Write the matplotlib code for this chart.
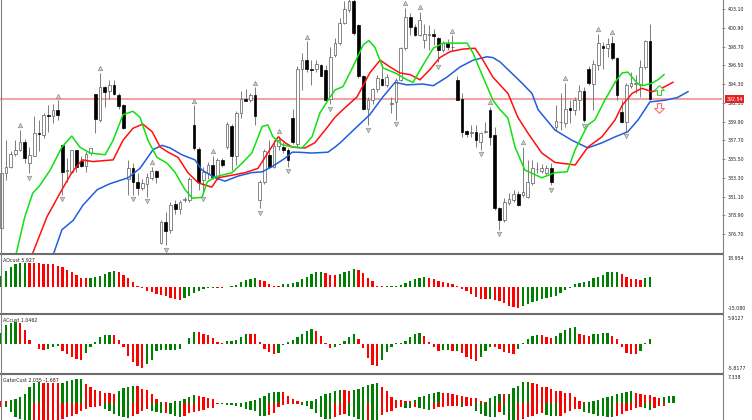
import numpy as np
import matplotlib.pyplot as plt
from matplotlib.lines import Line2D
from matplotlib.path import Path
from matplotlib.transforms import blended_transform_factory

plt.rcParams['font.family'] = ['DejaVu Sans']

# ---------------- price bars, first one (-1) sits half out of view ----------------
first_bar = -1
opens = [377.4, 383.9, 384.6, 386.1, 386.6, 387.5, 385.0, 385.9, 388.6, 388.3,
         390.7, 390.5, 391.3, 387.1, 384.1, 384.0, 386.6, 385.3, 384.7, 386.2,
         393.1, 390.1, 393.9, 393.5, 394.2, 393.0, 391.8, 383.2, 384.4, 382.8,
         382.1, 382.6, 383.3, 384.1, 375.6, 378.1, 377.2, 380.2, 379.6, 380.7,
         380.7, 389.5, 386.7, 383.0, 383.8, 384.8, 383.2, 385.4, 386.9, 389.4,
         385.8, 390.9, 392.6, 392.4, 393.0, 380.7, 382.8, 386.0, 384.6, 387.0,
         386.9, 386.6, 390.3, 387.3, 396.1, 397.1, 396.1, 396.1, 396.5, 395.9,
         392.6, 397.7, 399.1, 401.5, 403.0, 404.0, 401.2, 395.2, 391.4, 392.4,
         393.7, 394.9, 394.2, 392.0, 392.2, 394.8, 398.5, 402.2, 401.0, 400.1,
         399.5, 400.1, 400.2, 399.7, 398.3, 399.1, 398.6, 394.8, 392.6, 388.8,
         388.6, 388.7, 387.5, 388.7, 391.3, 388.3, 379.7, 378.3, 380.3, 380.7,
         381.4, 381.3, 381.0, 382.7, 384.3, 384.1, 383.8, 384.4, 389.2, 389.8,
         389.7, 391.5, 391.2, 392.4, 393.5, 396.1, 394.3, 396.5, 398.8, 398.5,
         399.1, 397.4, 391.0, 389.9, 394.1, 394.3, 394.2, 396.3, 399.3]
highs = [384.2, 387.7, 386.4, 387.7, 388.9, 387.9, 386.9, 390.5, 390.1, 390.9,
         391.8, 391.9, 392.4, 387.2, 385.6, 386.6, 386.6, 385.8, 386.4, 386.8,
         393.1, 395.6, 394.1, 394.8, 394.8, 393.2, 391.9, 385.4, 385.0, 383.8,
         383.2, 383.9, 384.6, 384.2, 378.3, 379.3, 380.5, 380.7, 380.7, 381.1,
         383.4, 391.8, 386.9, 384.6, 385.2, 385.9, 385.6, 385.6, 389.9, 389.6,
         391.1, 393.5, 393.7, 393.2, 393.9, 383.0, 386.7, 387.7, 387.7, 388.2,
         387.5, 386.8, 391.4, 396.4, 397.9, 399.3, 397.1, 397.1, 396.7, 396.5,
         398.7, 399.7, 402.0, 404.0, 404.5, 404.6, 401.3, 395.4, 392.8, 393.8,
         395.4, 396.7, 395.5, 392.8, 395.0, 398.7, 403.2, 402.6, 401.4, 402.8,
         401.4, 401.2, 400.8, 399.8, 399.4, 399.6, 400.0, 395.2, 393.2, 388.9,
         389.5, 389.5, 388.7, 389.8, 391.6, 389.3, 379.9, 380.9, 381.5, 381.9,
         381.7, 386.9, 385.4, 385.4, 385.2, 384.9, 384.8, 385.0, 391.8, 393.2,
         394.4, 392.4, 392.8, 394.2, 394.0, 396.4, 397.1, 400.2, 399.2, 399.7,
         399.9, 397.5, 392.4, 394.4, 395.7, 395.4, 397.1, 399.5, 401.3]
lows = [377.2, 383.0, 384.4, 385.8, 386.4, 385.0, 383.8, 385.8, 386.4, 388.0,
        388.7, 389.7, 390.1, 381.3, 382.8, 383.8, 384.0, 384.6, 384.0, 386.0,
        388.5, 389.9, 391.6, 392.6, 393.0, 391.4, 389.0, 381.3, 381.3, 381.3,
        381.9, 381.1, 383.0, 382.7, 375.5, 375.4, 376.8, 379.1, 379.1, 380.4,
        380.5, 386.6, 381.9, 381.4, 383.2, 383.2, 383.0, 384.6, 386.7, 384.2,
        384.8, 390.3, 392.4, 392.2, 389.5, 379.7, 382.6, 384.4, 384.4, 386.6,
        386.2, 384.6, 387.3, 386.9, 393.6, 395.7, 394.2, 395.7, 395.2, 392.1,
        391.9, 397.5, 398.9, 401.3, 402.8, 400.0, 395.0, 391.3, 389.5, 392.0,
        393.4, 394.1, 393.9, 390.9, 390.1, 394.6, 398.3, 400.1, 399.9, 399.9,
        398.5, 398.3, 398.9, 396.9, 398.1, 398.3, 398.2, 392.4, 388.1, 388.1,
        388.1, 386.9, 386.6, 388.5, 387.2, 379.5, 377.2, 378.1, 380.1, 380.5,
        380.0, 381.1, 380.9, 382.5, 383.8, 383.8, 383.6, 382.4, 388.9, 388.9,
        389.2, 389.7, 390.7, 391.3, 389.9, 394.2, 391.3, 395.9, 396.1, 397.5,
        397.1, 392.4, 389.7, 388.7, 393.8, 393.2, 392.8, 396.1, 392.4]
closes = [383.9, 384.6, 386.1, 386.6, 387.5, 385.6, 386.0, 388.5, 388.4, 390.7,
          390.6, 391.3, 390.7, 384.0, 384.15, 386.6, 384.6, 384.7, 386.1, 386.8,
          390.2, 393.9, 393.4, 394.2, 393.1, 391.7, 389.1, 384.4, 382.8, 382.1,
          382.7, 383.4, 384.1, 383.4, 378.1, 377.0, 380.1, 379.6, 380.5, 380.8,
          383.2, 386.8, 382.8, 384.0, 384.8, 383.4, 385.4, 384.8, 389.6, 385.8,
          390.9, 392.6, 392.3, 393.0, 390.5, 382.8, 386.4, 384.6, 387.0, 387.7,
          386.6, 385.4, 387.5, 396.1, 397.1, 396.1, 396.0, 396.6, 395.2, 392.4,
          397.5, 399.1, 401.5, 403.1, 404.0, 400.3, 395.2, 391.4, 392.4, 393.7,
          395.0, 394.2, 395.1, 392.05, 394.8, 398.5, 402.2, 401.0, 400.1, 401.8,
          400.2, 400.15, 399.9, 398.3, 399.1, 398.7, 398.7, 392.4, 388.7, 388.4,
          388.65, 387.7, 388.6, 388.75, 388.1, 379.7, 378.3, 380.5, 380.8, 381.4,
          380.1, 381.6, 382.8, 384.4, 384.35, 384.4, 384.4, 382.8, 390.0, 389.9,
          391.4, 391.2, 392.4, 393.5, 390.1, 394.4, 396.7, 399.1, 398.5, 399.0,
          397.3, 393.0, 389.9, 394.2, 394.4, 394.35, 396.3, 399.3, 392.54]

last_price = 392.54
price_ticks = [403.10, 400.90, 398.70, 396.50, 394.30, 392.10, 389.90,
               387.70, 385.50, 383.30, 381.10, 378.90, 376.70]

# fractal bars
up_fractals = [3, 11, 20, 31, 40, 44, 53, 58, 64, 85, 88, 95, 103, 110, 119, 126, 129]
down_fractals = [5, 12, 27, 30, 34, 42, 54, 60, 69, 77, 83, 92, 101, 105, 116, 123, 132]

# alligator lines (bar position, price)
jaw_x = [10.0, 11.9, 14.3, 16.4, 19.4, 22.1, 26.0, 28.5, 31.3, 33.2, 34.9, 37.4, 40.2,
         41.7, 44.5, 46.6, 49.4, 52.3, 54.5, 56.6, 59.4, 60.9, 62.1, 65.1, 68.5, 70.0,
         71.1, 74.7, 77.4, 80.2, 82.8, 85.3, 88.7, 90.9, 93.8, 96.6, 99.4, 102.3, 103.6,
         105.1, 106.8, 109.8, 111.9, 113.2, 116.8, 120.4, 123.8, 126.8, 129.6, 132.3,
         134.5, 137.0, 140.2, 142.8, 145.1]
jaw = [374.2, 377.2, 378.3, 380.1, 381.9, 382.6, 383.3, 384.4, 386.6, 387.1, 386.8,
       386.0, 385.4, 384.2, 383.3, 382.9, 383.5, 383.9, 384.0, 384.6, 385.6, 386.3,
       386.3, 386.2, 386.3, 386.9, 387.4, 389.3, 390.7, 392.8, 394.5, 394.2, 394.3,
       394.1, 395.1, 396.3, 397.1, 397.5, 397.4, 396.9, 396.0, 394.4, 393.2, 391.3,
       388.9, 387.7, 386.8, 387.4, 388.1, 388.7, 390.1, 392.2, 392.4, 392.7, 393.4]
teeth_x = [5.5, 8.7, 11.9, 14.0, 16.2, 18.5, 22.8, 24.9, 27.0, 29.1, 31.1, 32.8, 34.5,
           36.6, 38.7, 40.9, 43.8, 45.1, 48.1, 50.9, 53.6, 55.7, 57.9, 59.4, 60.9, 63.6,
           65.7, 67.9, 70.0, 71.7, 74.7, 77.4, 79.6, 81.7, 83.8, 86.0, 88.1, 90.2, 92.3,
           94.5, 97.2, 99.8, 101.5, 103.6, 105.1, 106.8, 108.9, 111.1, 114.0, 116.8,
           121.1, 123.8, 126.8, 129.6, 131.1, 133.2, 135.3, 137.4, 138.7, 140.2, 141.9]
teeth = [374.2, 378.7, 381.9, 383.9, 385.4, 385.2, 385.4, 387.7, 389.1, 389.6, 388.7,
         386.9, 386.3, 385.7, 383.9, 382.7, 382.2, 383.3, 383.6, 383.9, 384.4, 386.2,
         388.1, 387.4, 386.9, 386.8, 387.4, 388.9, 390.4, 391.3, 392.8, 395.6, 397.1,
         396.3, 395.6, 395.4, 394.8, 396.0, 397.4, 398.1, 398.4, 398.5, 397.1, 395.1,
         394.2, 393.2, 390.4, 388.5, 386.2, 385.1, 384.8, 386.9, 388.1, 390.1, 391.8,
         393.2, 393.8, 393.4, 393.6, 394.0, 394.5]
lips_x = [2.0, 4.0, 5.7, 7.2, 9.4, 11.9, 14.0, 15.7, 17.9, 21.1, 22.8, 24.9, 27.0, 28.5,
          30.2, 32.1, 34.3, 36.0, 38.1, 39.6, 41.7, 42.8, 44.5, 48.1, 50.2, 52.3, 54.5,
          55.7, 56.8, 58.7, 60.9, 63.0, 65.1, 66.8, 68.5, 70.0, 71.7, 73.8, 76.0, 77.2,
          78.5, 80.2, 82.8, 85.3, 86.6, 88.7, 90.9, 93.0, 98.1, 99.4, 101.5, 103.6, 105.1,
          106.8, 108.3, 110.4, 114.0, 116.8, 119.4, 121.1, 123.8, 125.3, 127.4, 129.6,
          131.1, 132.3, 134.3, 135.5, 137.4, 138.7, 140.0]
lips = [374.0, 378.7, 381.5, 382.4, 384.2, 386.9, 388.2, 386.9, 386.2, 386.0, 387.7,
        390.7, 391.1, 390.4, 387.7, 385.7, 385.0, 383.9, 381.9, 380.9, 381.0, 382.8,
        383.4, 383.9, 385.0, 386.2, 389.3, 389.5, 388.1, 387.2, 386.9, 386.8, 388.1,
        390.9, 392.4, 393.6, 394.0, 396.3, 398.9, 399.4, 398.6, 396.2, 395.6, 394.8,
        394.5, 396.5, 398.5, 399.1, 399.1, 397.9, 395.1, 392.4, 391.3, 390.3, 386.9,
        384.2, 383.3, 383.9, 384.0, 386.6, 389.5, 390.1, 392.4, 394.5, 395.6, 395.7,
        394.4, 394.1, 394.4, 394.8, 395.4]

# signal arrows at the right
signal_bar = 139
signal_up_price = 393.6
signal_down_price = 391.5

# ---------------- oscillators, bar -1 onward ----------------
ao = [6.6, 9.2, 11.5, 13.5, 14.0, 14.4, 14.3, 14.2, 14.0, 13.7,
      13.6, 13.5, 12.6, 11.5, 10.0, 8.6, 6.8, 5.4, 5.0, 5.3,
      5.8, 6.6, 7.6, 8.6, 9.5, 8.7, 7.3, 5.2, 2.6, 0.6,
      -1.0, -2.4, -3.4, -4.2, -4.8, -5.8, -6.6, -7.2, -7.8, -6.8,
      -5.8, -3.6, -2.4, -1.4, -0.8, -0.5, -0.6, -0.7, -0.2, 0.6,
      1.0, 2.6, 4.0, 4.8, 5.2, 4.2, 3.2, 1.6, 0.6, 0.4,
      1.6, 1.7, 2.2, 3.0, 4.6, 6.0, 7.6, 8.6, 8.7, 8.0,
      7.2, 7.1, 7.6, 8.6, 9.6, 10.5, 10.0, 8.2, 5.2, 3.2,
      0.6, 0.4, 0.45, 0.5, 0.55, 1.0, 2.0, 3.2, 4.6, 5.2,
      5.6, 5.2, 4.6, 3.6, 3.0, 2.0, 1.6, 0.4, -1.2, -2.4,
      -4.4, -6.4, -7.4, -7.5, -7.3, -8.0, -8.8, -10.0, -11.3, -12.3,
      -12.4, -11.3, -10.3, -9.4, -8.4, -7.4, -6.8, -6.4, -5.4, -4.0,
      -2.0, -0.6, 1.6, 2.0, 2.6, 3.6, 5.2, 6.0, 7.2, 8.6,
      8.7, 8.8, 7.6, 5.6, 4.8, 4.4, 4.0, 5.2, 5.927]
ac = [2.3, 3.9, 4.2, 4.4, 4.2, 2.8, 0.75, -0.1, -1.1, -1.3,
      -1.0, -0.6, -0.4, -1.4, -2.1, -2.8, -3.2, -3.3, -2.0, -0.75,
      0.3, 1.3, 1.8, 1.85, 1.7, 0.75, -0.6, -2.5, -3.8, -4.5,
      -4.9, -4.2, -3.4, -1.4, -1.35, -1.3, -1.25, -1.2, -1.1, -0.1,
      1.2, 2.5, 2.45, 2.0, 1.7, 1.2, 0.3, 0.15, 0.6, 0.65,
      0.8, 1.4, 2.0, 1.95, 1.9, 0.3, -1.1, -1.8, -2.1, -2.0,
      -0.2, 0.35, 0.75, 1.3, 2.0, 2.7, 2.95, 2.7, 1.65, 0.2,
      -0.9, -0.75, -0.2, 0.5, 1.4, 2.0, 1.0, -0.9, -2.9, -4.3,
      -4.5, -3.4, -1.8, -0.6, 0.05, 0.2, 0.6, 1.4, 2.1, 2.3,
      1.65, 0.3, -0.75, -1.4, -1.35, -1.3, -1.55, -1.45, -2.0, -2.8,
      -3.2, -3.5, -2.8, -1.4, -0.6, -0.65, -1.1, -1.8, -2.0, -2.05,
      -1.1, 0.2, 1.0, 1.65, 1.8, 1.75, 1.3, 1.15, 1.65, 2.3,
      2.8, 3.2, 3.5, 2.0, 1.85, 1.65, 2.0, 2.1, 2.15, 2.2,
      1.65, 0.9, -0.75, -2.0, -2.1, -2.2, -1.4, 0.05, 1.0462]
gator_up = [0.7, 0.6, 0.9, 1.2, 1.6, 2.4, 4.1, 5.2, 5.4, 5.35,
            5.3, 5.25, 5.2, 5.3, 5.8, 6.0, 6.2, 6.25, 5.0, 4.1,
            3.4, 3.1, 2.8, 2.75, 2.4, 3.3, 4.0, 4.3, 4.6, 4.4,
            3.7, 3.4, 2.4, 1.1, 0.3, 0.25, 0.2, 0.5, 0.7, 1.1,
            1.7, 2.2, 2.0, 1.7, 1.5, 1.1, 0.1, 0.08, 0.06, 0.1,
            0.1, 0.15, 0.25, 0.7, 0.95, 1.4, 2.0, 2.6, 2.85, 3.0,
            2.9, 2.0, 1.2, 0.6, 0.35, 0.5, 0.7, 1.2, 2.0, 2.4,
            2.7, 3.3, 3.5, 3.4, 3.3, 3.5, 3.8, 4.3, 4.8, 5.1,
            5.2, 4.3, 3.3, 1.6, 0.9, 0.85, 0.7, 0.65, 0.9, 1.7,
            2.0, 2.4, 2.8, 2.85, 2.8, 2.6, 2.4, 2.25, 1.8, 1.55,
            1.5, 1.4, 0.7, 0.3, 1.4, 2.0, 2.4, 2.35, 2.5, 3.9,
            4.6, 5.4, 5.6, 5.3, 5.0, 4.3, 4.1, 3.7, 3.3, 3.1,
            2.8, 2.6, 1.6, 0.7, 0.3, 0.4, 0.7, 0.9, 1.4, 1.7,
            2.0, 2.4, 2.8, 3.0, 3.2, 2.8, 2.4, 2.2, 2.035, 1.6,
            1.4, 1.6, 1.8, 2.0]
gator_down = [0.9, 1.0, 2.3, 3.6, 4.0, 4.5, 5.0, 4.8, 4.6, 4.5,
              4.4, 4.3, 4.25, 4.0, 3.6, 3.2, 2.8, 1.9, 1.5, 1.0,
              0.85, 0.8, 1.4, 1.9, 2.8, 3.4, 3.6, 3.7, 3.2, 2.8,
              1.9, 1.5, 1.9, 2.3, 2.6, 2.4, 2.8, 3.2, 3.6, 3.2,
              2.6, 2.3, 1.9, 1.7, 1.2, 1.1, 0.2, 0.3, 0.35, 0.4,
              0.6, 1.0, 1.5, 1.7, 2.1, 3.2, 3.4, 3.0, 2.6, 1.0,
              0.5, 0.2, 0.3, 0.2, 0.35, 0.6, 1.5, 2.6, 3.6, 4.0,
              4.1, 3.6, 3.0, 2.8, 3.2, 3.6, 4.2, 4.4, 4.3, 4.5,
              4.6, 3.0, 2.2, 1.9, 1.2, 1.0, 1.2, 1.3, 1.0, 1.3,
              1.6, 1.8, 1.5, 1.0, 0.9, 0.8, 0.7, 0.6, 0.9, 0.7,
              0.6, 2.1, 2.8, 3.2, 3.45, 3.6, 2.3, 3.0, 4.3, 4.4,
              4.3, 4.0, 3.6, 3.2, 2.8, 2.6, 3.0, 3.2, 3.4, 3.2,
              2.6, 1.9, 1.5, 1.4, 2.3, 2.6, 2.8, 3.2, 3.4, 3.5,
              3.6, 3.2, 2.8, 2.0, 1.7, 1.2, 1.0, 1.3, 1.687, 1.2,
              0.8, 0.6]

ao_range = (-15.080, 18.954)
ac_range = (-5.8177, 5.9127)
gator_top = 7.338

GREEN = '#008000'
RED = '#ff0000'


def bar_colors(vals, first):
    cols = [first]
    for prev, cur in zip(vals[:-1], vals[1:]):
        cols.append(GREEN if cur > prev else RED)
    return cols


# ---------------- figure layout (pixel rows of the original) ----------------
W, H = 752, 420
AXIS_X = 722
fig = plt.figure(figsize=(W / 100, H / 100), dpi=100)


def panel(top, bottom):
    return fig.add_axes([0, 1 - bottom / H, AXIS_X / W, (bottom - top) / H])


ax = panel(0, 253)
ax_ao = panel(255, 312)
ax_ac = panel(315, 372)
ax_gt = panel(375, 420)

bar_px = 4.70
xlim = (-6 / bar_px, (AXIS_X - 6) / bar_px)
for a in (ax, ax_ao, ax_ac, ax_gt):
    a.set_xlim(*xlim)
    a.set_xticks([])
    for s in a.spines.values():
        s.set_visible(False)
    a.set_facecolor('white')

# ---------------- main price chart ----------------
o = np.array(opens); h = np.array(highs); l = np.array(lows); c = np.array(closes)
bars = np.arange(len(o)) + first_bar
bull = c >= o
body_lo = np.minimum(o, c)
body_h = np.maximum(np.abs(c - o), 0.07)

ax.axhline(last_price, color='#f2a3a3', lw=1.5, zorder=1)
ax.vlines(bars, l, h, color='#7c7c7c', lw=0.7, zorder=2)
ax.bar(bars[bull], body_h[bull], bottom=body_lo[bull], width=0.58,
       color='white', edgecolor='#5a5a5a', lw=0.5, zorder=3)
ax.bar(bars[~bull], body_h[~bull], bottom=body_lo[~bull], width=0.58,
       color='black', edgecolor='black', lw=0.5, zorder=3)

ax.plot(jaw_x, jaw, color='#1f5fdc', lw=1.1, zorder=4)
ax.plot(teeth_x, teeth, color='#ff1010', lw=1.1, zorder=4)
ax.plot(lips_x, lips, color='#10e010', lw=1.1, zorder=4)

uf = np.array(up_fractals); df = np.array(down_fractals)
ax.plot(uf, h[uf - first_bar] + 0.55, ls='none', marker='^', ms=3.2,
        mfc='#d0d0d0', mec='#8c8c8c', mew=0.5, zorder=5)
ax.plot(df, l[df - first_bar] - 0.55, ls='none', marker='v', ms=3.2,
        mfc='#d0d0d0', mec='#8c8c8c', mew=0.5, zorder=5)

arrow_up = Path([(0, 1), (1, 0), (0.42, 0), (0.42, -1), (-0.42, -1),
                 (-0.42, 0), (-1, 0), (0, 1)], closed=True)
arrow_dn = Path([(0, -1), (1, 0), (0.42, 0), (0.42, 1), (-0.42, 1),
                 (-0.42, 0), (-1, 0), (0, -1)], closed=True)
ax.plot([signal_bar], [signal_up_price], marker=arrow_up, ms=7, mfc='white',
        mec='#3cc83c', mew=0.8, zorder=6)
ax.plot([signal_bar], [signal_down_price], marker=arrow_dn, ms=7, mfc='white',
        mec='#ff6a6a', mew=0.8, zorder=6)

ax.set_ylim(404.16, 374.47)
ax.set_ylim(374.47, 404.16)
ax.yaxis.tick_right()
ax.set_yticks(price_ticks)
ax.set_yticklabels([f'{t:.2f}' for t in price_ticks])
ax.tick_params(axis='y', length=2, width=0.5, color='#666666', pad=2,
               labelsize=3.4, labelcolor='#222222')

tr = blended_transform_factory(ax.transAxes, ax.transData)
ax.text(1.006, last_price, f'{last_price:.2f}', transform=tr, ha='left', va='center',
        fontsize=3.4, color='white', clip_on=False, zorder=10,
        bbox=dict(facecolor='#e52222', edgecolor='none', pad=0.8))

# ---------------- AO ----------------
ob = np.arange(len(ao)) + first_bar
ax_ao.bar(ob, ao, width=0.5, color=bar_colors(ao, GREEN), lw=0)
ax_ao.set_ylim(*ao_range)

# ---------------- AC ----------------
ax_ac.bar(ob, ac, width=0.5, color=bar_colors(ac, GREEN), lw=0)
ax_ac.set_ylim(*ac_range)

# ---------------- Gator ----------------
gu = np.array(gator_up); gd = np.array(gator_down)
ax_gt.bar(np.arange(len(gu)) + first_bar, gu, width=0.5,
          color=bar_colors(list(gu), RED), lw=0)
ax_gt.bar(np.arange(len(gd)) + first_bar, -gd, width=0.5,
          color=bar_colors(list(gd), RED), lw=0)
px_per_unit = 28.3 / gator_top
ax_gt.set_ylim(gator_top - 45 / px_per_unit, gator_top)

# panel captions and scale labels
txt = dict(fontsize=3.4, color='#222222')
ax_ao.text(0.004, 0.955, 'AOcust 5.927', transform=ax_ao.transAxes, va='top', **txt)
ax_ac.text(0.004, 0.955, 'ACcust 1.0462', transform=ax_ac.transAxes, va='top', **txt)
ax_gt.text(0.004, 0.93, 'GatorCust 2.035 -1.687', transform=ax_gt.transAxes, va='top', **txt)

for a, top_lbl, bot_lbl in ((ax_ao, '18.954', '-15.080'),
                            (ax_ac, '5.9127', '-5.8177'),
                            (ax_gt, '7.338', None)):
    a.set_yticks([])
    a.text(1.008, 0.99, top_lbl, transform=a.transAxes, ha='left', va='top',
           clip_on=False, **txt)
    if bot_lbl:
        a.text(1.008, 0.01, bot_lbl, transform=a.transAxes, ha='left', va='bottom',
               clip_on=False, **txt)

# borders and separators
for ysep in (254, 313.5, 373.5):
    fig.add_artist(Line2D([0, (AXIS_X + 1) / W], [1 - ysep / H] * 2,
                          color='#6c6c6c', lw=1.5))
fig.add_artist(Line2D([(AXIS_X + 0.5) / W] * 2, [0, 1], color='#808080', lw=0.8))
fig.add_artist(Line2D([0.6 / W] * 2, [0, 1], color='#808080', lw=0.8))

fig.savefig('out.png', dpi=100, facecolor='white')
